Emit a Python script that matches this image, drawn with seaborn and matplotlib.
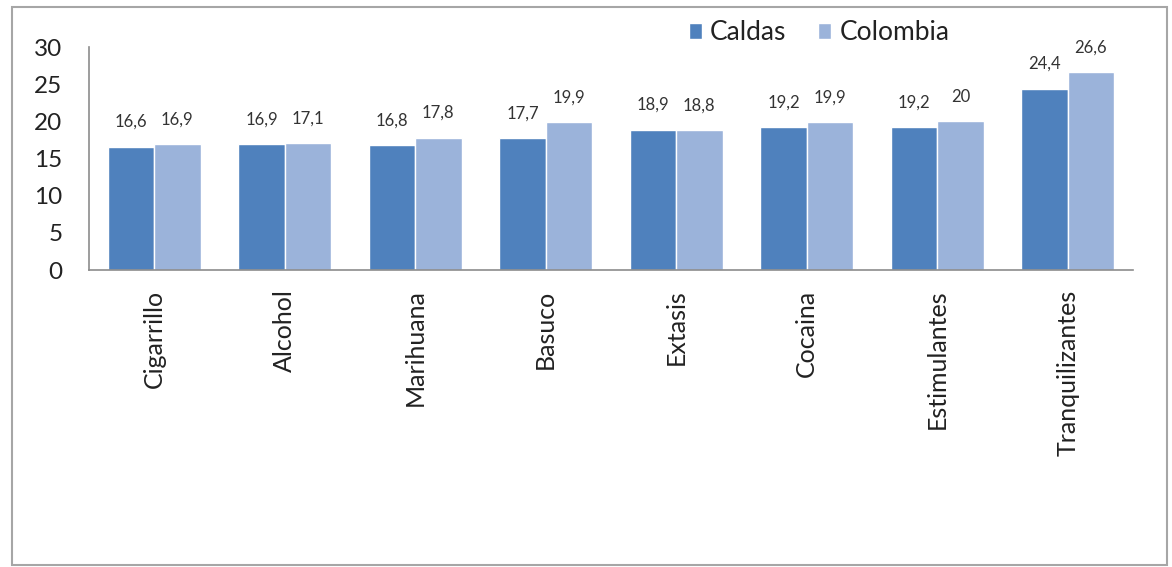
import matplotlib
matplotlib.use("Agg")
import matplotlib.pyplot as plt
import seaborn as sns
import pandas as pd
from matplotlib.patches import Rectangle

categories = ["Cigarrillo", "Alcohol", "Marihuana", "Basuco", "Extasis",
              "Cocaina", "Estimulantes", "Tranquilizantes"]
caldas = [16.6, 16.9, 16.8, 17.7, 18.9, 19.2, 19.2, 24.4]
colombia = [16.9, 17.1, 17.8, 19.9, 18.8, 19.9, 20.0, 26.6]
series_names = ["Caldas", "Colombia"]
yticks = [0, 5, 10, 15, 20, 25, 30]

df = pd.DataFrame({
    "Sustancia": categories * 2,
    "Edad": caldas + colombia,
    "Serie": [series_names[0]] * len(categories) + [series_names[1]] * len(categories),
})

sns.set_theme(style="white")
plt.rcParams["font.family"] = ["Lato", "DejaVu Sans"]

fig = plt.figure(figsize=(11.72, 5.67), dpi=100)
ax = fig.add_axes([0.0759, 0.5238, 0.8908, 0.3932])

palette = {"Caldas": "#4F81BD", "Colombia": "#9BB3DA"}
sns.barplot(data=df, x="Sustancia", y="Edad", hue="Serie", order=categories,
            hue_order=series_names, palette=palette, width=0.71, gap=0,
            saturation=1, ax=ax, legend=True)

for cont in ax.containers:
    vals = [b.get_height() for b in cont]
    labels = [f"{v:g}".replace(".", ",") for v in vals]
    ax.bar_label(cont, labels=labels, padding=12, fontsize=12, color="#333333")

ax.set_ylim(0, 30)
ax.set_yticks(yticks)
ax.set_xlim(-0.5, len(categories) - 0.5)
ax.set_xlabel("")
ax.set_ylabel("")
ax.tick_params(axis="y", length=0, pad=19, labelsize=17.5, labelcolor="#222222")
ax.tick_params(axis="x", length=0, pad=14, labelsize=18, labelcolor="#222222")
plt.setp(ax.get_xticklabels(), rotation=90, va="top", ha="center")

for s in ["top", "right"]:
    ax.spines[s].set_visible(False)
for s in ["left", "bottom"]:
    ax.spines[s].set_color("#8c8c8c")
    ax.spines[s].set_linewidth(1.2)

handles, labels = ax.get_legend_handles_labels()
ax.get_legend().remove()
fig.legend(handles, labels, loc="center", bbox_to_anchor=(0.699, 0.942), ncol=2,
           frameon=False, fontsize=19, handlelength=0.5, handleheight=0.5,
           handletextpad=0.3, columnspacing=1.2, labelcolor="#222222")

fig.patches.append(Rectangle((0.0105, 0.004), 0.985, 0.984, transform=fig.transFigure,
                             fill=False, edgecolor="#a6a6a6", linewidth=1.5))

fig.savefig("out.png", dpi=100)
